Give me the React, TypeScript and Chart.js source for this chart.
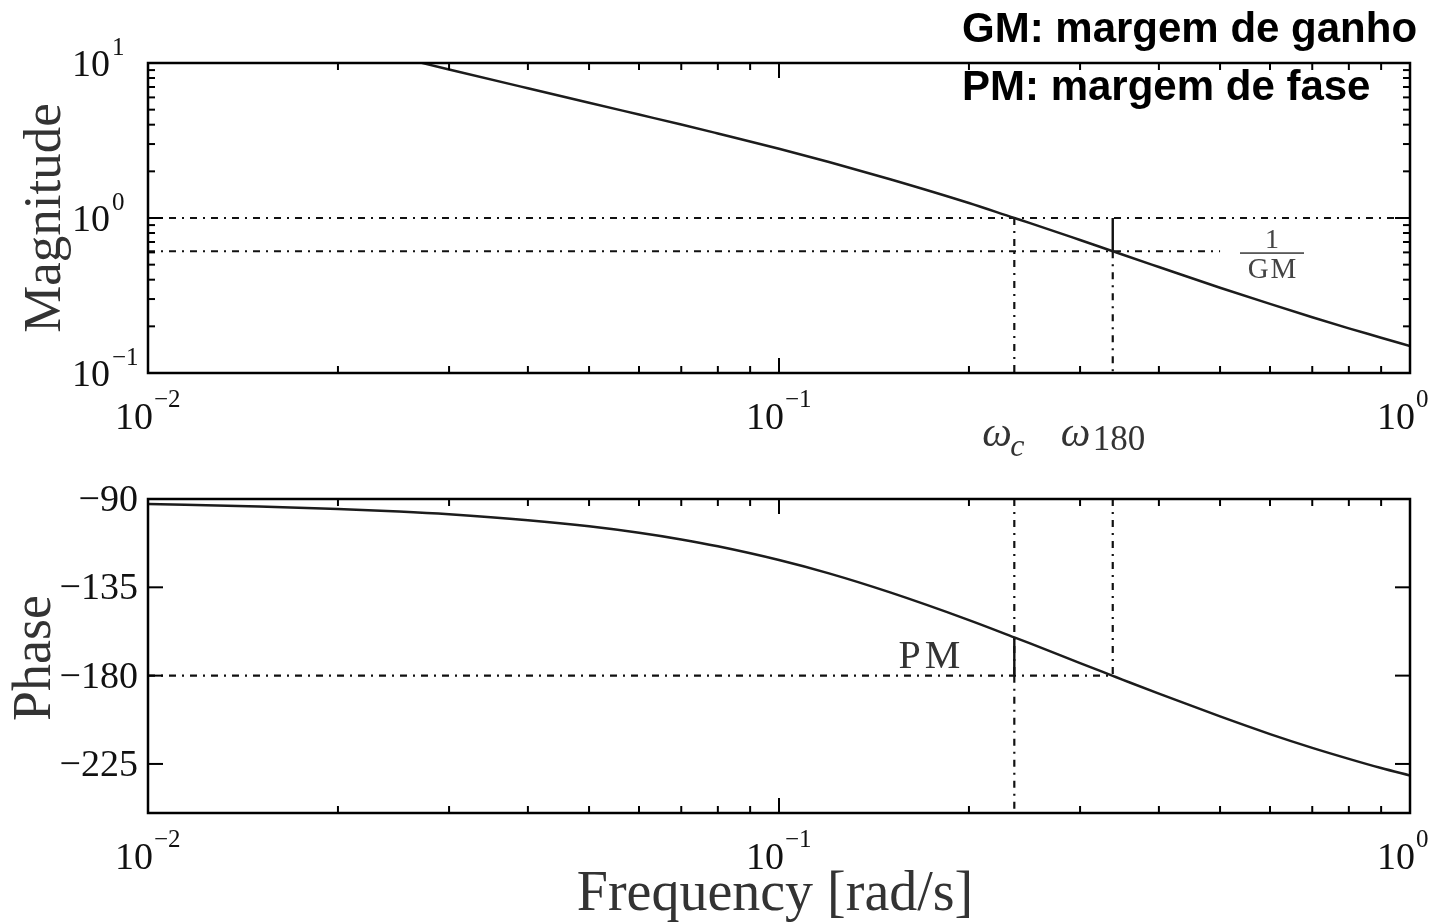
import React, { useEffect, useRef } from "react";
import { Chart, registerables } from "chart.js";

Chart.register(...registerables);

// ---- data ----
const frequency = [0.01, 0.015, 0.02, 0.025, 0.03, 0.04, 0.05, 0.06, 0.07, 0.08, 0.1, 0.12, 0.15, 0.2, 0.236, 0.25, 0.3, 0.338, 0.35, 0.4, 0.5, 0.6, 0.7, 0.8, 0.9, 1.0];
const magnitude = [26.9, 18.0, 13.5, 10.86, 9.08, 6.87, 5.54, 4.65, 4.01, 3.51, 2.80, 2.30, 1.78, 1.25, 1.0, 0.927, 0.721, 0.61, 0.581, 0.483, 0.355, 0.279, 0.229, 0.194, 0.169, 0.149];
const phase = [-92.5, -93.8, -95.1, -96.4, -97.8, -100.8, -103.9, -107.2, -110.6, -114.1, -121.1, -127.9, -137.6, -151.7, -160.5, -163.6, -173.6, -180.1, -182.0, -189.2, -200.8, -209.8, -216.8, -222.4, -227.1, -230.9];

const omegaC = 0.236;
const omega180 = 0.338;
const inverseGM = 0.61;
const phaseAtOmegaC = -160.5;

const freqTicks = [0.01, 0.1, 1];
const freqExponents = ["\u22122", "\u22121", "0"];
const magTicks = [0.1, 1, 10];
const magExponents = ["\u22121", "0", "1"];
const phaseTicks = [-90, -135, -180, -225];
const phaseTickLabels = ["\u221290", "\u2212135", "\u2212180", "\u2212225"];
const minorMultipliers = [2, 3, 4, 5, 6, 7, 8, 9];

const SERIF = '"Liberation Serif", "Times New Roman", serif';
const SANS = '"Liberation Sans", Arial, sans-serif';
const DASH = [7, 6, 2, 6];
const W = 1441;

function seg(ctx: CanvasRenderingContext2D, x1: number, y1: number, x2: number, y2: number) {
  ctx.beginPath();
  ctx.moveTo(x1, y1);
  ctx.lineTo(x2, y2);
  ctx.stroke();
}

function decadeMinors(decades: number[]) {
  const out: number[] = [];
  for (let i = 0; i < decades.length - 1; i++) for (const m of minorMultipliers) out.push(decades[i] * m);
  return out;
}

function drawFrame(chart: any, yMajor: number[], yMinor: number[]) {
  const { ctx, chartArea: a, scales } = chart;
  const xs = scales.x, ys = scales.y;
  ctx.save();
  ctx.strokeStyle = "#000";
  ctx.lineWidth = 2;
  for (const v of freqTicks) {
    const p = xs.getPixelForValue(v);
    seg(ctx, p, a.bottom, p, a.bottom - 15);
    seg(ctx, p, a.top, p, a.top + 15);
  }
  for (const v of decadeMinors(freqTicks)) {
    const p = xs.getPixelForValue(v);
    seg(ctx, p, a.bottom, p, a.bottom - 7);
    seg(ctx, p, a.top, p, a.top + 7);
  }
  for (const v of yMajor) {
    const p = ys.getPixelForValue(v);
    seg(ctx, a.left, p, a.left + 15, p);
    seg(ctx, a.right, p, a.right - 15, p);
  }
  for (const v of yMinor) {
    const p = ys.getPixelForValue(v);
    seg(ctx, a.left, p, a.left + 7, p);
    seg(ctx, a.right, p, a.right - 7, p);
  }
  ctx.lineWidth = 2.5;
  ctx.strokeRect(a.left, a.top, a.right - a.left, a.bottom - a.top);
  ctx.restore();
}

function drawFreqLabels(chart: any) {
  const { ctx, chartArea: a, scales } = chart;
  ctx.save();
  ctx.fillStyle = "#111";
  freqTicks.forEach((v, i) => {
    const p = scales.x.getPixelForValue(v);
    ctx.font = `38px ${SERIF}`;
    ctx.textAlign = "right";
    ctx.textBaseline = "alphabetic";
    ctx.fillText("10", p + 5, a.bottom + 56);
    ctx.font = `25px ${SERIF}`;
    ctx.textAlign = "left";
    ctx.fillText(freqExponents[i], p + 6, a.bottom + 34);
  });
  ctx.restore();
}

function lineDs(points: { x: number; y: number }[], dashed: boolean, width = 2.2) {
  return {
    data: points,
    borderColor: "#111",
    borderWidth: width,
    borderDash: dashed ? DASH : [],
    pointRadius: 0,
    fill: false,
    tension: 0,
  };
}

const magnitudePlugin = {
  id: "magDecor",
  afterDraw(chart: any) {
    const { ctx, chartArea: a, scales } = chart;
    drawFrame(chart, magTicks, decadeMinors(magTicks));
    drawFreqLabels(chart);
    ctx.save();
    ctx.fillStyle = "#111";
    magTicks.forEach((v, i) => {
      const p = scales.y.getPixelForValue(v);
      ctx.font = `38px ${SERIF}`;
      ctx.textAlign = "right";
      ctx.fillText("10", a.left - 38, p + 13);
      ctx.font = `25px ${SERIF}`;
      ctx.textAlign = "left";
      ctx.fillText(magExponents[i], a.left - 36, p - 8);
    });
    // axis title
    ctx.fillStyle = "#333";
    ctx.save();
    ctx.translate(60, (a.top + a.bottom) / 2);
    ctx.rotate(-Math.PI / 2);
    ctx.font = `53px ${SERIF}`;
    ctx.textAlign = "center";
    ctx.fillText("Magnitude", 0, 0);
    ctx.restore();
    // 1/GM label
    const gy = scales.y.getPixelForValue(inverseGM);
    ctx.fillStyle = "#444";
    ctx.textAlign = "center";
    ctx.font = `28px ${SERIF}`;
    ctx.fillText("1", 1272, gy - 3);
    ctx.fillRect(1240, gy + 1, 64, 1.6);
    (ctx as any).letterSpacing = "2px";
    ctx.font = `29px ${SERIF}`;
    ctx.fillText("GM", 1273, gy + 27);
    (ctx as any).letterSpacing = "0px";
    // omega labels
    const xc = scales.x.getPixelForValue(omegaC);
    const x180 = scales.x.getPixelForValue(omega180);
    ctx.fillStyle = "#333";
    ctx.textAlign = "left";
    ctx.font = `italic 42px ${SERIF}`;
    ctx.fillText("\u03c9", xc - 32, 446);
    ctx.font = `italic 32px ${SERIF}`;
    ctx.fillText("c", xc - 4, 456);
    ctx.font = `italic 42px ${SERIF}`;
    ctx.fillText("\u03c9", x180 - 52, 446);
    ctx.font = `35px ${SERIF}`;
    ctx.fillText("180", x180 - 20, 450);
    // header texts
    ctx.fillStyle = "#000";
    ctx.font = `bold 42px ${SANS}`;
    ctx.textAlign = "left";
    ctx.fillText("GM: margem de ganho", 962, 42);
    ctx.fillText("PM: margem de fase", 962, 100);
    ctx.restore();
  },
};

const phasePlugin = {
  id: "phaseDecor",
  afterDraw(chart: any) {
    const { ctx, chartArea: a, scales } = chart;
    drawFrame(chart, phaseTicks, []);
    drawFreqLabels(chart);
    ctx.save();
    ctx.fillStyle = "#111";
    phaseTicks.forEach((v, i) => {
      const p = scales.y.getPixelForValue(v);
      ctx.font = `38px ${SERIF}`;
      ctx.textAlign = "right";
      ctx.fillText(phaseTickLabels[i], a.left - 10, p + 12);
    });
    ctx.fillStyle = "#333";
    ctx.save();
    ctx.translate(50, 188);
    ctx.rotate(-Math.PI / 2);
    ctx.font = `54px ${SERIF}`;
    ctx.textAlign = "center";
    ctx.fillText("Phase", 0, 0);
    ctx.restore();
    ctx.font = `56px ${SERIF}`;
    ctx.textAlign = "center";
    ctx.fillText("Frequency [rad/s]", 775, 440);
    // PM label
    const xc = scales.x.getPixelForValue(omegaC);
    (ctx as any).letterSpacing = "4px";
    ctx.font = `40px ${SERIF}`;
    ctx.textAlign = "right";
    ctx.fillText("PM", xc - 50, 198);
    (ctx as any).letterSpacing = "0px";
    ctx.restore();
  },
};

function MagnitudeChart() {
  const ref = useRef<HTMLCanvasElement | null>(null);
  useEffect(() => {
    if (!ref.current) return;
    const chart = new Chart(ref.current, {
      type: "line",
      data: {
        datasets: [
          {
            data: frequency.map((f, i) => ({ x: f, y: magnitude[i] })),
            borderColor: "#1c1c1c",
            borderWidth: 2.5,
            pointRadius: 0,
            fill: false,
            cubicInterpolationMode: "monotone",
          },
          lineDs([{ x: omega180, y: 1 }, { x: omega180, y: inverseGM }], false, 2.4),
          lineDs([{ x: 0.01, y: 1 }, { x: 1, y: 1 }], true),
          lineDs([{ x: 0.01, y: inverseGM }, { x: 0.5, y: inverseGM }], true),
          lineDs([{ x: omegaC, y: 1 }, { x: omegaC, y: 0.1 }], true),
          lineDs([{ x: omega180, y: inverseGM }, { x: omega180, y: 0.1 }], true),
        ] as any,
      },
      options: {
        animation: false,
        responsive: false,
        layout: { padding: { left: 148, right: 31, top: 63, bottom: 97 } },
        plugins: { legend: { display: false }, tooltip: { enabled: false } },
        scales: {
          x: { type: "logarithmic", min: 0.01, max: 1, display: false },
          y: { type: "logarithmic", min: 0.1, max: 10, display: false },
        },
      } as any,
      plugins: [magnitudePlugin],
    });
    return () => chart.destroy();
  }, []);
  return <canvas ref={ref} width={W} height={470} style={{ display: "block" }} />;
}

function PhaseChart() {
  const ref = useRef<HTMLCanvasElement | null>(null);
  useEffect(() => {
    if (!ref.current) return;
    const chart = new Chart(ref.current, {
      type: "line",
      data: {
        datasets: [
          {
            data: frequency.map((f, i) => ({ x: f, y: phase[i] })),
            borderColor: "#1c1c1c",
            borderWidth: 2.5,
            pointRadius: 0,
            fill: false,
            cubicInterpolationMode: "monotone",
          },
          lineDs([{ x: omegaC, y: -180 }, { x: omegaC, y: phaseAtOmegaC }], false, 2.4),
          lineDs([{ x: 0.01, y: -180 }, { x: omega180, y: -180 }], true),
          lineDs([{ x: omegaC, y: -90 }, { x: omegaC, y: -180 }], true),
          lineDs([{ x: omegaC, y: -180 }, { x: omegaC, y: -250 }], true),
          lineDs([{ x: omega180, y: -90 }, { x: omega180, y: -180 }], true),
        ] as any,
      },
      options: {
        animation: false,
        responsive: false,
        layout: { padding: { left: 148, right: 31, top: 29, bottom: 109 } },
        plugins: { legend: { display: false }, tooltip: { enabled: false } },
        scales: {
          x: { type: "logarithmic", min: 0.01, max: 1, display: false },
          y: { type: "linear", min: -250, max: -90, display: false },
        },
      } as any,
      plugins: [phasePlugin],
    });
    return () => chart.destroy();
  }, []);
  return <canvas ref={ref} width={W} height={452} style={{ display: "block" }} />;
}

export default function App() {
  return (
    <div style={{ position: "absolute", left: 0, top: 0, width: W, height: 922, background: "#fff" }}>
      <MagnitudeChart />
      <PhaseChart />
    </div>
  );
}
